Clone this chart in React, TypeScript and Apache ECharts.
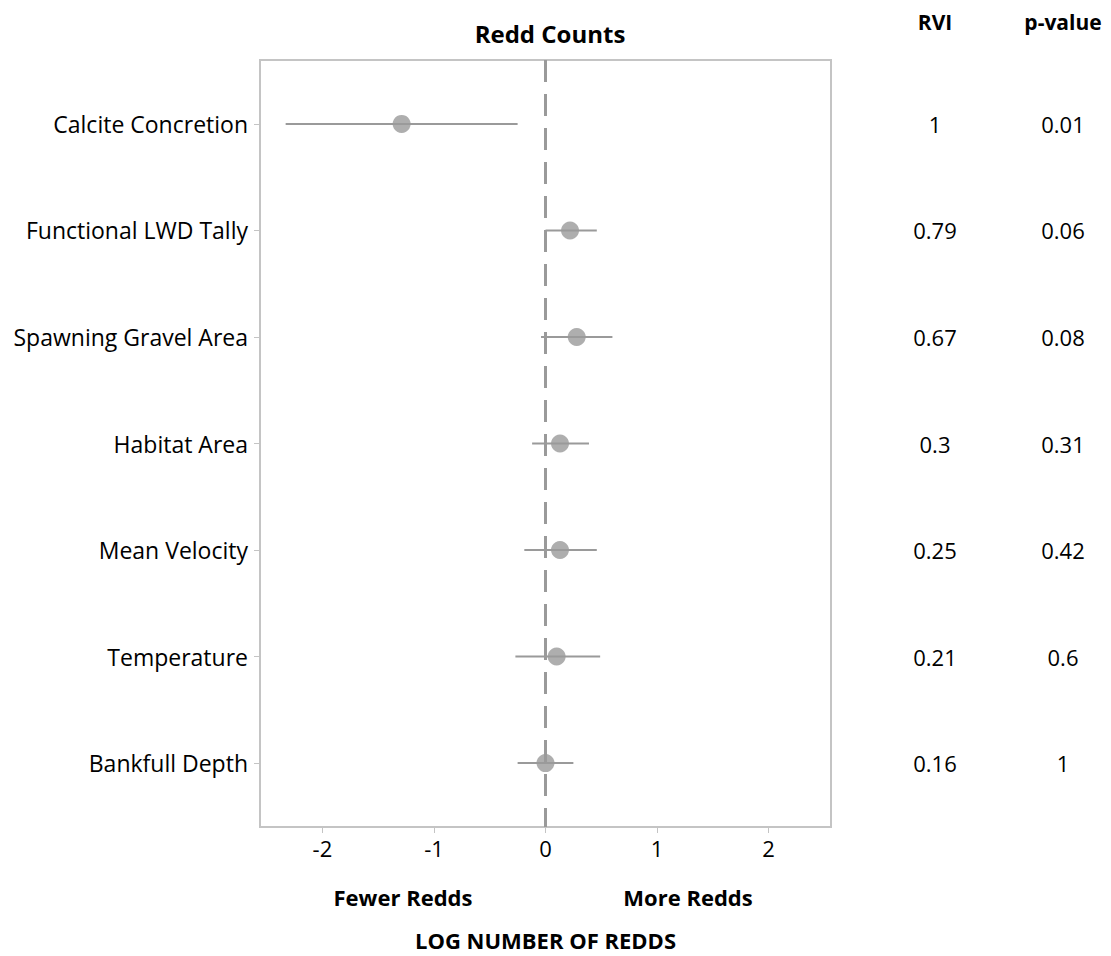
import React, { useEffect, useRef } from "react";
import * as echarts from "echarts";

const categories = [
  "Calcite Concretion",
  "Functional LWD Tally",
  "Spawning Gravel Area",
  "Habitat Area",
  "Mean Velocity",
  "Temperature",
  "Bankfull Depth",
];
const estimates = [-1.29, 0.22, 0.28, 0.13, 0.13, 0.1, 0.0];
const lower = [-2.33, 0.0, -0.04, -0.12, -0.19, -0.27, -0.25];
const upper = [-0.25, 0.46, 0.6, 0.39, 0.46, 0.49, 0.25];
const rvi = ["1", "0.79", "0.67", "0.3", "0.25", "0.21", "0.16"];
const pValues = ["0.01", "0.06", "0.08", "0.31", "0.42", "0.6", "1"];
const xTicks = [-2, -1, 0, 1, 2];

const FONT = "Open Sans";
const GRAY = "#9a9a9a";

export default function App() {
  const ref = useRef<HTMLDivElement>(null);
  useEffect(() => {
    if (!ref.current) return;
    const chart = echarts.init(ref.current, undefined, { renderer: "svg" });
    const yPos = categories.map((_, i) => i + 1);
    chart.setOption({
      animation: false,
      textStyle: { fontFamily: FONT },
      title: {
        text: "Redd Counts",
        left: 545,
        top: 16,
        textAlign: "center",
        textStyle: { fontFamily: FONT, fontSize: 24, fontWeight: "bold", color: "#000" },
      },
      grid: {
        left: 260,
        top: 60,
        width: 571,
        height: 768,
        show: true,
        borderColor: "#c4c4c4",
        borderWidth: 2,
        backgroundColor: "transparent",
      },
      xAxis: {
        type: "value",
        min: -2.56,
        max: 2.56,
        axisLine: { show: false, onZero: false },
        splitLine: { show: false },
        axisTick: { show: true, customValues: xTicks, length: 6, lineStyle: { color: "#c4c4c4", width: 1 } },
        axisLabel: {
          customValues: xTicks,
          fontFamily: FONT,
          fontSize: 22,
          color: "#000",
          margin: 10,
        },
        name: "LOG NUMBER OF REDDS",
        nameLocation: "middle",
        nameGap: 102,
        nameTextStyle: { fontFamily: FONT, fontSize: 22, fontWeight: "bold", color: "#000" },
      },
      yAxis: {
        type: "value",
        inverse: true,
        min: 0.4,
        max: 7.6,
        axisLine: { show: false, onZero: false },
        splitLine: { show: false },
        axisTick: { show: true, customValues: yPos, length: 6, lineStyle: { color: "#c4c4c4", width: 1 } },
        axisLabel: {
          customValues: yPos,
          formatter: (v: number) => categories[Math.round(v) - 1] ?? "",
          fontFamily: FONT,
          fontSize: 23,
          color: "#000",
          margin: 12,
        },
      },
      series: [
        {
          type: "custom",
          name: "ci",
          clip: false,
          data: categories.map((_, i) => [lower[i], upper[i], i + 1]),
          encode: { x: [0, 1], y: 2 },
          renderItem: (params: any, api: any) => {
            const a = api.coord([api.value(0), api.value(2)]);
            const b = api.coord([api.value(1), api.value(2)]);
            return {
              type: "line",
              shape: { x1: a[0], y1: a[1], x2: b[0], y2: b[1] },
              style: { stroke: GRAY, lineWidth: 2 },
            };
          },
          z: 2,
        },
        {
          type: "scatter",
          name: "est",
          data: categories.map((_, i) => [estimates[i], i + 1]),
          symbol: "circle",
          symbolSize: 18,
          itemStyle: { color: GRAY },
          z: 4,
          markLine: {
            silent: true,
            symbol: "none",
            label: { show: false },
            lineStyle: { color: GRAY, type: [22, 12], width: 3 },
            data: [{ xAxis: 0 }],
            z: 3,
          },
        },
      ],
    });

    const texts: any[] = [
      { type: "text", x: 935, y: 22, style: { text: "RVI", font: `bold 21px "${FONT}"`, fill: "#000", align: "center", verticalAlign: "middle" } },
      { type: "text", x: 1063, y: 22, style: { text: "p-value", font: `bold 21px "${FONT}"`, fill: "#000", align: "center", verticalAlign: "middle" } },
      { type: "text", x: 403, y: 897, style: { text: "Fewer Redds", font: `bold 22px "${FONT}"`, fill: "#000", align: "center", verticalAlign: "middle" } },
      { type: "text", x: 688, y: 897, style: { text: "More Redds", font: `bold 22px "${FONT}"`, fill: "#000", align: "center", verticalAlign: "middle" } },
    ];
    categories.forEach((_, i) => {
      const p = chart.convertToPixel({ gridIndex: 0 }, [0, i + 1]) as number[];
      texts.push({
        type: "text",
        x: 935,
        y: p[1],
        style: { text: rvi[i], font: `22px "${FONT}"`, fill: "#000", align: "center", verticalAlign: "middle" },
      });
      texts.push({
        type: "text",
        x: 1063,
        y: p[1],
        style: { text: pValues[i], font: `22px "${FONT}"`, fill: "#000", align: "center", verticalAlign: "middle" },
      });
    });
    chart.setOption({ graphic: texts });
    return () => chart.dispose();
  }, []);
  return <div ref={ref} style={{ width: 1111, height: 956, position: "absolute", left: 0, top: 0 }} />;
}
